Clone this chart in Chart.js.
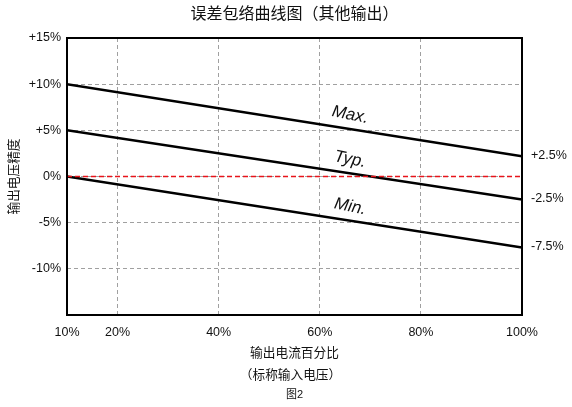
<!DOCTYPE html>
<html lang="zh-CN">
<head>
<meta charset="UTF-8">
<title>误差包络曲线图（其他输出）</title>
<script src="https://cdn.jsdelivr.net/npm/chart.js"></script>
<style>
    body{ margin:0; padding:0; background:#fff; }
    .wrap{ width:572px; height:407px; }
</style>
</head>
<body>
<div class="wrap"><canvas id="envChart" width="572" height="407"></canvas></div>
<script>
/* 数据 */
const loadPct   = [10, 100];                 // 输出电流百分比 (起点, 终点)
const maxVals   = [10, 2.2];
const typVals   = [5, -2.5];
const minVals   = [0, -7.7];
const zeroVals  = [0, 0];
const curveNames = ['Max.', 'Typ.', 'Min.'];
const endLabels  = ['+2.5%', '-2.5%', '-7.5%'];
const xTicks     = [10, 20, 40, 60, 80, 100];

const FONT = '"Liberation Sans", Arial, "Noto Sans CJK SC", sans-serif';
const toPts = vals => loadPct.map((x, i) => ({x, y: vals[i]}));
const curves = [maxVals, typVals, minVals];

/* 文字、边框 */
const decor = {
    id: 'decor',
    afterDraw(chart){
        const {ctx, chartArea: a, scales: {x, y}} = chart;
        ctx.save();
        // 外框
        ctx.strokeStyle = '#000';
        ctx.lineWidth = 2;
        ctx.strokeRect(a.left, a.top, a.right - a.left, a.bottom - a.top);

        const cx = (a.left + a.right) / 2;
        ctx.fillStyle = '#111';
        ctx.textAlign = 'center';
        ctx.textBaseline = 'middle';
        ctx.font = '16px ' + FONT;
        ctx.fillText('误差包络曲线图（其他输出）', cx, 15);

        ctx.font = '12.7px ' + FONT;
        ctx.fillText('输出电流百分比', cx, 353);
        ctx.fillText('（标称输入电压）', cx - 4, 375);
        ctx.font = '11px ' + FONT;
        ctx.fillText('图2', cx, 395);

        // 纵轴标题
        ctx.save();
        ctx.translate(14, (a.top + a.bottom) / 2);
        ctx.rotate(-Math.PI / 2);
        ctx.font = '12.7px ' + FONT;
        ctx.fillText('输出电压精度', 0, 0);
        ctx.restore();

        // 右侧端点标注
        ctx.textAlign = 'left';
        ctx.font = '12.5px ' + FONT;
        curves.forEach((c, i) => {
            ctx.fillText(endLabels[i], a.right + 9, y.getPixelForValue(c[c.length - 1]) - 1);
        });

        // 曲线名称
        ctx.font = 'italic 17px ' + FONT;
        ctx.textAlign = 'center';
        const lx = 66;
        curves.forEach((c, i) => {
            const t = (lx - loadPct[0]) / (loadPct[1] - loadPct[0]);
            const v = c[0] + (c[1] - c[0]) * t;
            ctx.save();
            ctx.translate(x.getPixelForValue(lx), y.getPixelForValue(v) - 14);
            ctx.rotate(11 * Math.PI / 180);
            ctx.fillText(curveNames[i], 0, 0);
            ctx.restore();
        });
        ctx.restore();
    }
};

const blackLine = vals => ({
    data: toPts(vals), borderColor: '#000', borderWidth: 2.5,
    pointRadius: 0, tension: 0, fill: false
});

new Chart(document.getElementById('envChart'), {
    type: 'line',
    data: {
        datasets: [
            { data: toPts(zeroVals), borderColor: '#e8141b', borderWidth: 1.6,
              borderDash: [5, 3], pointRadius: 0 },
            blackLine(maxVals),
            blackLine(typVals),
            blackLine(minVals)
        ]
    },
    options: {
        responsive: false,
        animation: false,
        layout: { padding: { top: 38, right: 50, left: 0, bottom: 0 } },
        plugins: { legend: { display: false }, tooltip: { enabled: false } },
        scales: {
            x: {
                type: 'linear', min: 10, max: 100,
                afterBuildTicks: s => { s.ticks = xTicks.map(v => ({value: v})); },
                afterFit: s => { s.height = 92; },
                grid: { color: '#a0a0a0', lineWidth: 1, drawTicks: false },
                border: { display: false, dash: [4, 3] },
                ticks: { color: '#111', padding: 10, maxRotation: 0,
                         font: { family: FONT, size: 12.5 },
                         callback: v => v + '%' }
            },
            y: {
                min: -15, max: 15,
                afterFit: s => { s.width = 67; },
                grid: { color: '#a0a0a0', lineWidth: 1, drawTicks: false },
                border: { display: false, dash: [4, 3] },
                ticks: { stepSize: 5, color: '#111', padding: 6,
                         font: { family: FONT, size: 12.5 },
                         callback: v => v === -15 ? '' : (v > 0 ? '+' + v + '%' : v + '%') }
            }
        }
    },
    plugins: [decor]
});
</script>
</body>
</html>
